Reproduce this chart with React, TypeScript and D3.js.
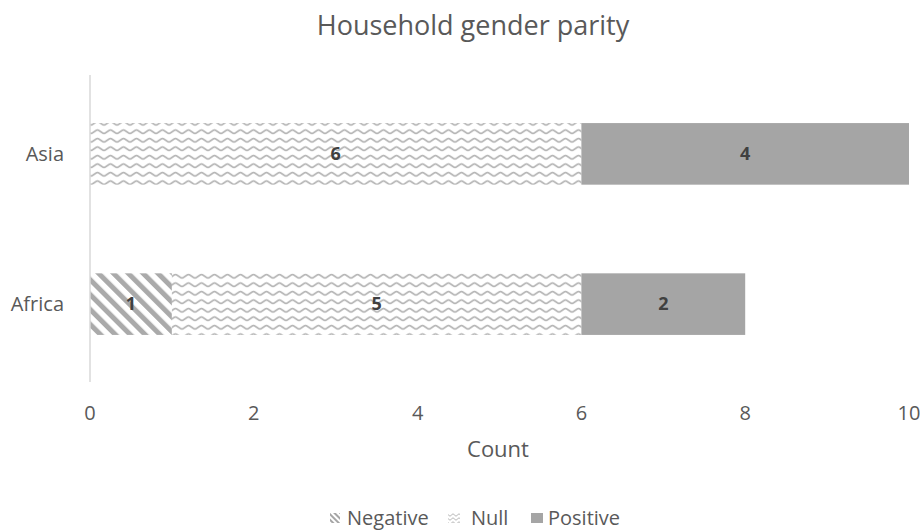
import React from "react";
import * as d3 from "d3";

const categories = ["Asia", "Africa"];
const seriesNames = ["Negative", "Null", "Positive"];
const negative = [0, 1];
const nullVals = [6, 5];
const positive = [4, 2];
const xTicks = [0, 2, 4, 6, 8, 10];

const W = 920, H = 530;
const FONT = "'Open Sans', sans-serif";

export default function App() {
  const x = d3.scaleLinear().domain([0, 10]).range([90, 909]);
  const y = d3.scaleBand().domain(categories).range([78, 380]).paddingInner(0.59).paddingOuter(0.3);
  const rows = categories.map((c, i) => ({ cat: c, Negative: negative[i], Null: nullVals[i], Positive: positive[i] }));
  const stack = d3.stack<any>().keys(seriesNames)(rows);
  const fills: Record<string, string> = { Negative: "url(#pNeg)", Null: "url(#pNull)", Positive: "#a5a5a5" };

  return (
    <svg width={W} height={H} style={{ position: "absolute", left: 0, top: 0 }} fontFamily={FONT}>
      <defs>
        <pattern id="pNeg" patternUnits="userSpaceOnUse" width="10.5" height="10.5" patternTransform="rotate(-45)">
          <rect width="10.5" height="10.5" fill="#fff" />
          <rect x="0" y="0" width="5" height="10.5" fill="#aaaaaa" />
        </pattern>
        <pattern id="pNull" patternUnits="userSpaceOnUse" width="13" height="8.5">
          <rect width="13" height="8.5" fill="#fff" />
          <path d="M0,6 C2,6 4.5,2.5 6.5,2.5 C8.5,2.5 11,6 13,6" fill="none" stroke="#b3b3b3" strokeWidth="1.5" />
        </pattern>
        <pattern id="lNeg" patternUnits="userSpaceOnUse" width="4" height="4" patternTransform="rotate(-45)">
          <rect width="4" height="4" fill="#fff" />
          <rect width="2" height="4" fill="#a5a5a5" />
        </pattern>
        <pattern id="lNull" patternUnits="userSpaceOnUse" width="6" height="4">
          <rect width="6" height="4" fill="#fff" />
          <path d="M0,3 C1,3 2,1 3,1 C4,1 5,3 6,3" fill="none" stroke="#b0b0b0" strokeWidth="1" />
        </pattern>
      </defs>
      <rect width={W} height={H} fill="#fff" />
      <text x={473} y={35} textAnchor="middle" fontSize={27} fill="#595959">Household gender parity</text>
      {stack.map((s) => (
        <g key={s.key}>
          {s.map((d, i) => {
            const v = d[1] - d[0];
            if (v <= 0) return null;
            const x0 = x(d[0]), x1 = x(d[1]);
            const yy = y(categories[i])!;
            return (
              <g key={i}>
                <rect x={x0} y={yy} width={x1 - x0} height={y.bandwidth()} fill={fills[s.key]} />
                <text x={(x0 + x1) / 2} y={yy + y.bandwidth() / 2} dy="0.35em" textAnchor="middle" fontSize={18} fontWeight="bold" fill="#404040">{v}</text>
              </g>
            );
          })}
        </g>
      ))}
      <line x1={x(0)} x2={x(0)} y1={75} y2={382} stroke="#d9d9d9" strokeWidth={1.5} />
      {categories.map((c) => (
        <text key={c} x={64} y={y(c)! + y.bandwidth() / 2 + 7} textAnchor="end" fontSize={20} fill="#595959">{c}</text>
      ))}
      {xTicks.map((t) => (
        <text key={t} x={x(t)} y={420} textAnchor="middle" fontSize={20} fill="#595959">{t}</text>
      ))}
      <text x={498} y={457} textAnchor="middle" fontSize={22} fill="#595959">Count</text>
      <g transform="translate(0,525)">
        <rect x={330} y={-12} width={10} height={10} fill="url(#lNeg)" />
        <text x={347} y={0} fontSize={20} fill="#595959">Negative</text>
        <rect x={448} y={-12} width={12} height={10} fill="url(#lNull)" />
        <text x={471} y={0} fontSize={20} fill="#595959">Null</text>
        <rect x={531} y={-12} width={12} height={10} fill="#a5a5a5" />
        <text x={548} y={0} fontSize={20} fill="#595959">Positive</text>
      </g>
    </svg>
  );
}
